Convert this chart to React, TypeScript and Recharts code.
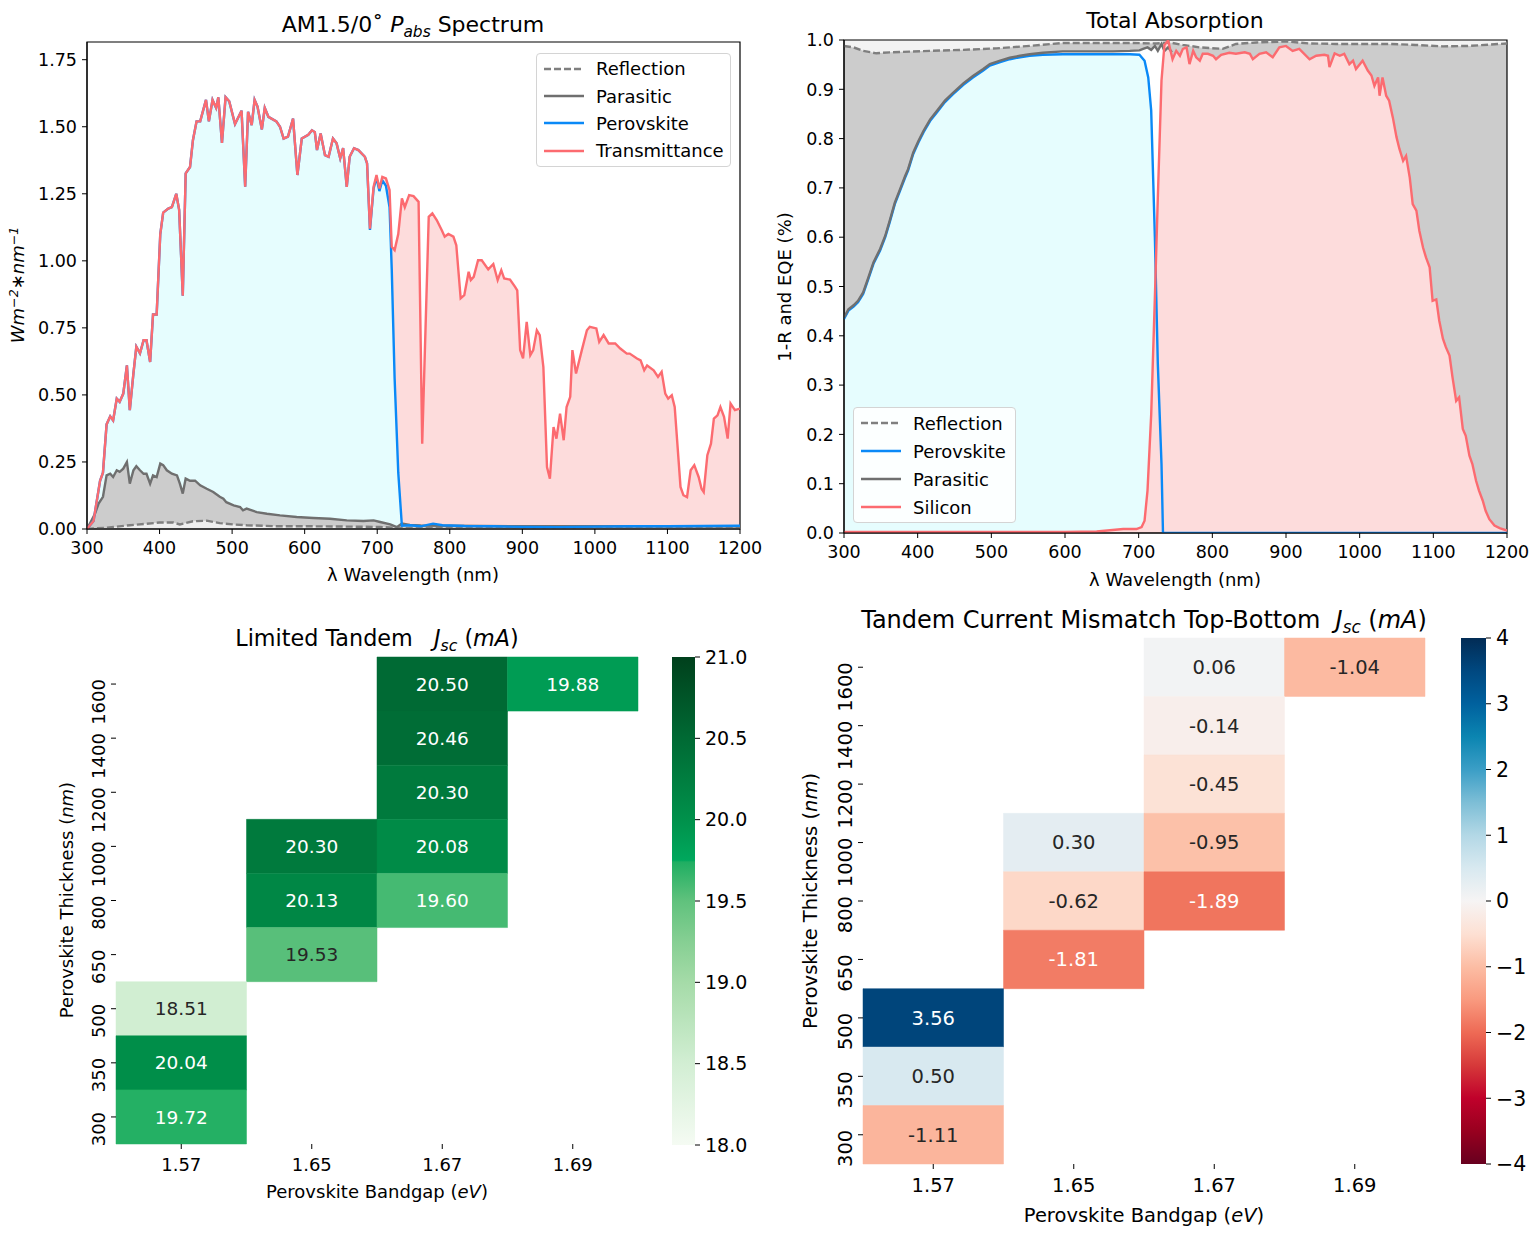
import React from "react";
import {
  ComposedChart,
  Area,
  Line,
  Scatter,
  XAxis,
  YAxis,
  ReferenceArea,
  CartesianGrid,
} from "recharts";

// ---------------------------------------------------------------------------
// Data — top left: AM1.5 absorbed power spectrum (cumulative curves)
// ---------------------------------------------------------------------------

const tlWave = [
  300, 309, 318, 322, 327, 332, 336, 341, 345, 350,
  355, 359, 364, 368, 373, 378, 382, 387, 391, 396,
  401, 405, 412, 417, 423, 427, 432, 436, 442, 446,
  451, 456, 464, 468, 473, 478, 481, 486, 491, 496,
  504, 513, 518, 522, 527, 531, 535, 541, 545, 550,
  561, 566, 571, 577, 584, 590, 596, 605, 610, 614,
  617, 622, 628, 633, 639, 644, 649, 653, 658, 662,
  668, 674, 683, 686, 690, 695, 699, 703, 707, 712,
  717, 720, 724, 729, 734, 738, 744, 750, 757, 762,
  771, 776, 782, 789, 793, 798, 805, 809, 815, 820,
  826, 829, 833, 839, 844, 853, 860, 866, 871, 875,
  883, 890, 893, 897, 901, 906, 911, 915, 920, 924,
  929, 934, 938, 943, 947, 952, 957, 961, 966, 969,
  974, 982, 989, 993, 1002, 1006, 1012, 1019, 1028, 1035,
  1044, 1048, 1058, 1063, 1068, 1072, 1081, 1087, 1092, 1097,
  1101, 1106, 1110, 1118, 1122, 1127, 1132, 1137, 1143, 1147,
  1150, 1155, 1160, 1164, 1169, 1173, 1178, 1183, 1187, 1193,
  1200,
];

const tlTransmittance = [
  0, 0.03, 0.18, 0.21, 0.39, 0.42, 0.405, 0.486, 0.474, 0.505,
  0.61, 0.443, 0.58, 0.68, 0.655, 0.704, 0.704, 0.623, 0.8, 0.8,
  1.1, 1.18, 1.195, 1.2, 1.25, 1.19, 0.87, 1.326, 1.35, 1.45,
  1.52, 1.52, 1.6, 1.52, 1.6, 1.57, 1.61, 1.44, 1.61, 1.595,
  1.51, 1.56, 1.276, 1.556, 1.506, 1.6, 1.575, 1.49, 1.57, 1.537,
  1.52, 1.5, 1.456, 1.463, 1.53, 1.32, 1.456, 1.47, 1.487, 1.48,
  1.413, 1.475, 1.394, 1.388, 1.456, 1.438, 1.382, 1.42, 1.276, 1.388,
  1.42, 1.413, 1.388, 1.363, 1.12, 1.276, 1.32, 1.27, 1.313, 1.307,
  1.264, 1.052, 1.04, 1.1, 1.233, 1.2, 1.245, 1.241, 1.22, 0.318,
  1.164, 1.177, 1.152, 1.114, 1.09, 1.1, 1.09, 1.058, 0.86, 0.872,
  0.959, 0.928, 0.94, 1.002, 1.002, 0.968, 0.988, 0.928, 0.965, 0.934,
  0.93, 0.903, 0.89, 0.667, 0.636, 0.772, 0.648, 0.667, 0.741, 0.723,
  0.604, 0.231, 0.188, 0.38, 0.337, 0.43, 0.331, 0.455, 0.493, 0.667,
  0.58, 0.667, 0.741, 0.754, 0.748, 0.698, 0.723, 0.692, 0.692, 0.673,
  0.654, 0.654, 0.636, 0.629, 0.592, 0.61, 0.592, 0.567, 0.586, 0.505,
  0.486, 0.499, 0.455, 0.157, 0.126, 0.119, 0.219, 0.238, 0.194, 0.15,
  0.138, 0.275, 0.318, 0.412, 0.424, 0.455, 0.418, 0.337, 0.468, 0.443,
  0.449,
];

// perovskite (cumulative) on the first part of tlWave, then its own tail
const tlPerovHead = [
  0, 0.03, 0.18, 0.21, 0.39, 0.42, 0.405, 0.486, 0.474, 0.505,
  0.61, 0.443, 0.58, 0.68, 0.655, 0.704, 0.704, 0.623, 0.8, 0.8,
  1.1, 1.18, 1.195, 1.2, 1.25, 1.19, 0.87, 1.326, 1.35, 1.45,
  1.52, 1.52, 1.6, 1.52, 1.6, 1.57, 1.61, 1.44, 1.61, 1.595,
  1.51, 1.56, 1.276, 1.556, 1.506, 1.6, 1.575, 1.49, 1.57, 1.537,
  1.52, 1.5, 1.456, 1.463, 1.53, 1.32, 1.456, 1.47, 1.487, 1.48,
  1.413, 1.475, 1.394, 1.388, 1.456, 1.438, 1.382, 1.42, 1.276, 1.388,
  1.42, 1.413, 1.388, 1.363, 1.115, 1.27, 1.31, 1.26, 1.3, 1.28,
  1.2, 0.97, 0.56, 0.21, 0.012,
];
const tlPerovTailWave = [745, 760, 777, 790, 820, 860, 900, 950, 1000, 1050, 1100, 1150, 1200];
const tlPerovTail = [0.014, 0.01, 0.02, 0.014, 0.011, 0.01, 0.008, 0.007, 0.009, 0.01, 0.01, 0.011, 0.012];

const tlParaWave = [
  300, 311, 316, 322, 327, 332, 336, 341, 345, 350,
  355, 359, 364, 368, 373, 378, 382, 387, 391, 396,
  401, 405, 410, 417, 424, 428, 432, 436, 442, 449,
  456, 465, 474, 483, 488, 492, 502, 511, 515, 520,
  534, 548, 566, 589, 612, 635, 658, 681, 695, 704,
  718, 727, 734, 745, 760, 800, 900, 1000, 1100, 1200,
];
const tlParasitic = [
  0, 0.057, 0.095, 0.12, 0.2, 0.206, 0.194, 0.219, 0.213, 0.225,
  0.25, 0.169, 0.219, 0.234, 0.219, 0.206, 0.206, 0.169, 0.2, 0.194,
  0.244, 0.238, 0.219, 0.206, 0.2, 0.169, 0.132, 0.188, 0.18, 0.18,
  0.163, 0.15, 0.138, 0.12, 0.113, 0.1, 0.088, 0.082, 0.07, 0.076,
  0.063, 0.057, 0.051, 0.045, 0.041, 0.038, 0.032, 0.03, 0.032, 0.026,
  0.017, 0.007, 0.02, 0.015, 0.013, 0.012, 0.01, 0.01, 0.01, 0.01,
];

const tlReflWave = [300, 327, 359, 400, 419, 428, 446, 465, 483, 502, 520, 566, 612, 658, 704, 727, 800, 1000, 1200];
const tlReflection = [0, 0.005, 0.014, 0.024, 0.024, 0.017, 0.029, 0.031, 0.022, 0.017, 0.014, 0.01, 0.01, 0.009, 0.0075, 0.004, 0.004, 0.004, 0.004];

// ---------------------------------------------------------------------------
// Data — top right: total absorption (1-R and EQE)
// ---------------------------------------------------------------------------

const trPerovWave = [
  300, 306, 313, 319, 326, 333, 340, 349, 356, 362,
  369, 376, 383, 387, 394, 401, 408, 417, 426, 437,
  448, 462, 475, 489, 498, 512, 525, 539, 552, 570,
  597, 620, 643, 665, 688, 701, 708, 713, 717, 722,
  726, 731, 733, 760, 900, 1200,
];
const trPerovskite = [
  0.434, 0.451, 0.459, 0.468, 0.485, 0.515, 0.546, 0.573, 0.6, 0.63,
  0.667, 0.694, 0.721, 0.735, 0.769, 0.792, 0.813, 0.836, 0.853, 0.874,
  0.89, 0.909, 0.924, 0.938, 0.948, 0.955, 0.961, 0.965, 0.968, 0.97,
  0.971, 0.971, 0.971, 0.971, 0.971, 0.97, 0.958, 0.924, 0.857, 0.6,
  0.343, 0.14, 0, 0, 0, 0,
];

const trParaWave = [
  300, 306, 313, 319, 326, 333, 340, 349, 356, 362,
  369, 376, 383, 387, 394, 401, 408, 417, 426, 437,
  448, 462, 475, 489, 498, 512, 525, 539, 552, 570,
  597, 620, 643, 665, 688, 701, 706, 712, 717, 722,
  726, 731, 735, 740, 745,
];
const trParasitic = [
  0.437, 0.454, 0.462, 0.471, 0.488, 0.518, 0.549, 0.576, 0.603, 0.633,
  0.67, 0.697, 0.724, 0.738, 0.772, 0.795, 0.816, 0.839, 0.856, 0.877,
  0.893, 0.912, 0.927, 0.941, 0.951, 0.958, 0.964, 0.968, 0.971, 0.974,
  0.977, 0.977, 0.977, 0.977, 0.978, 0.979, 0.982, 0.985, 0.98, 0.988,
  0.978, 0.992, 0.978, 0.985, 0.975,
];

const trSiWave = [
  300, 600, 643, 679, 697, 704, 708, 712, 717, 722,
  726, 731, 735, 740, 746, 751, 756, 760, 765, 769,
  774, 778, 783, 787, 794, 801, 805, 812, 823, 832,
  844, 851, 855, 864, 873, 882, 891, 900, 909, 918,
  932, 941, 952, 957, 959, 966, 973, 979, 986, 991,
  995, 1004, 1011, 1016, 1020, 1025, 1027, 1031, 1036, 1040,
  1045, 1050, 1054, 1059, 1063, 1068, 1072, 1077, 1081, 1086,
  1090, 1095, 1099, 1104, 1108, 1113, 1117, 1122, 1126, 1131,
  1135, 1140, 1144, 1149, 1153, 1158, 1162, 1167, 1171, 1176,
  1183, 1190, 1200,
];
const trSilicon = [
  0.002, 0.002, 0.003, 0.008, 0.008, 0.012, 0.025, 0.086, 0.24, 0.478,
  0.68, 0.918, 0.99, 0.999, 0.961, 0.978, 0.968, 0.982, 0.985, 0.951,
  0.978, 0.965, 0.958, 0.972, 0.972, 0.968, 0.961, 0.97, 0.974, 0.972,
  0.975, 0.972, 0.961, 0.972, 0.975, 0.965, 0.985, 0.988, 0.978, 0.982,
  0.961, 0.968, 0.97, 0.968, 0.945, 0.973, 0.968, 0.972, 0.951, 0.958,
  0.941, 0.958, 0.938, 0.928, 0.907, 0.924, 0.887, 0.924, 0.887, 0.877,
  0.843, 0.803, 0.779, 0.755, 0.765, 0.721, 0.667, 0.654, 0.613, 0.579,
  0.559, 0.539, 0.471, 0.474, 0.431, 0.394, 0.377, 0.36, 0.316, 0.268,
  0.275, 0.211, 0.197, 0.157, 0.14, 0.106, 0.086, 0.066, 0.045, 0.028,
  0.015, 0.01, 0.005,
];

const trReflWave = [300, 313, 326, 344, 362, 380, 417, 462, 507, 552, 597, 643, 688, 724, 742, 760, 783, 814, 832, 860, 900, 932, 968, 1004, 1040, 1076, 1113, 1149, 1200];
const trOneMinusR = [0.988, 0.985, 0.978, 0.973, 0.975, 0.976, 0.978, 0.98, 0.983, 0.988, 0.994, 0.994, 0.994, 0.993, 0.995, 0.99, 0.985, 0.982, 0.992, 0.995, 0.997, 0.993, 0.992, 0.992, 0.992, 0.99, 0.987, 0.988, 0.993];

// ---------------------------------------------------------------------------
// Data — heatmaps (rows top to bottom, columns left to right)
// ---------------------------------------------------------------------------

const bandgaps = ["1.57", "1.65", "1.67", "1.69"];
const thicknesses = ["1600", "1400", "1200", "1000", "800", "650", "500", "350", "300"];

const limitedJsc = [
  [null, null, 20.5, 19.88],
  [null, null, 20.46, null],
  [null, null, 20.3, null],
  [null, 20.3, 20.08, null],
  [null, 20.13, 19.6, null],
  [null, 19.53, null, null],
  [18.51, null, null, null],
  [20.04, null, null, null],
  [19.72, null, null, null],
];

const mismatchJsc = [
  [null, null, 0.06, -1.04],
  [null, null, -0.14, null],
  [null, null, -0.45, null],
  [null, 0.3, -0.95, null],
  [null, -0.62, -1.89, null],
  [null, -1.81, null, null],
  [3.56, null, null, null],
  [0.5, null, null, null],
  [-1.11, null, null, null],
];

const xTicks = [300, 400, 500, 600, 700, 800, 900, 1000, 1100, 1200];
const tlYTicks = [0, 0.25, 0.5, 0.75, 1, 1.25, 1.5, 1.75];
const trYTicks = [0, 0.1, 0.2, 0.3, 0.4, 0.5, 0.6, 0.7, 0.8, 0.9, 1];
const greensTicks = [18, 18.5, 19, 19.5, 20, 20.5, 21];
const rdbuTicks = [-4, -3, -2, -1, 0, 1, 2, 3, 4];

// ---------------------------------------------------------------------------
// Colour maps
// ---------------------------------------------------------------------------

const GREENS: [number, string][] = [
  [18.0, "#f5fbf3"], [18.5, "#d2eed3"], [19.0, "#a5dba8"], [19.25, "#86cf93"],
  [19.5, "#60c27d"], [19.74, "#1fae62"], [19.75, "#00a85d"], [20.0, "#00914b"],
  [20.5, "#006a34"], [21.0, "#00401c"],
];
const RDBU: [number, string][] = [
  [-4, "#67001f"], [-3.5, "#98001f"], [-3, "#c0012b"], [-2.5, "#d6393a"],
  [-2, "#ee6a55"], [-1.5, "#f99a7f"], [-1, "#fcbda4"], [-0.5, "#fde0d3"],
  [0, "#f6f4f4"], [0.5, "#d8e9f0"], [1, "#b3d8e6"], [1.5, "#7dbed6"],
  [2, "#3b9ec6"], [2.5, "#0b85b1"], [3, "#00619e"], [3.5, "#004880"], [4, "#022c55"],
];

const hexToRgb = (h: string) => {
  const n = parseInt(h.slice(1), 16);
  return [(n >> 16) & 255, (n >> 8) & 255, n & 255];
};

function cmap(stops: [number, string][], v: number): string {
  if (v <= stops[0][0]) return stops[0][1];
  for (let i = 0; i < stops.length - 1; i++) {
    const [a, ca] = stops[i];
    const [b, cb] = stops[i + 1];
    if (v <= b) {
      const t = (v - a) / (b - a);
      const A = hexToRgb(ca);
      const B = hexToRgb(cb);
      const c = A.map((x, k) => Math.round(x + (B[k] - x) * t));
      return `rgb(${c[0]},${c[1]},${c[2]})`;
    }
  }
  return stops[stops.length - 1][1];
}

function textOn(color: string): string {
  const m = color.match(/\d+/g);
  const rgb = m ? m.map(Number) : hexToRgb(color);
  const lin = rgb.map((c) => {
    const s = c / 255;
    return s <= 0.03928 ? s / 12.92 : Math.pow((s + 0.055) / 1.055, 2.4);
  });
  const L = 0.2126 * lin[0] + 0.7152 * lin[1] + 0.0722 * lin[2];
  return L < 0.39 ? "#ffffff" : "#262626";
}

// ---------------------------------------------------------------------------
// Helpers
// ---------------------------------------------------------------------------

const FONT = '"DejaVu Sans", sans-serif';
const RED = "#fc6b70";
const BLUE = "#0a89f7";
const GRAY = "#6f6f6f";
const DASH = "#7f7f7f";
const CYAN_FILL = "#e6fdfe";
const PINK_FILL = "#fddcdc";
const GRAY_FILL = "#cccccc";
const LW = 2.4;

const zip = (xs: number[], ys: number[]) => xs.map((x, i) => ({ x, y: ys[i] }));
const tick = (size: number) => ({ fontSize: size, fill: "#000", fontFamily: FONT });

function Txt({ x, y, size, rotate, children }: any) {
  return (
    <div
      style={{
        position: "absolute",
        left: x,
        top: y,
        transform: `translate(-50%, -50%)${rotate ? " rotate(-90deg)" : ""}`,
        fontSize: size,
        fontFamily: FONT,
        whiteSpace: "nowrap",
        lineHeight: 1,
        color: "#000",
      }}
    >
      {children}
    </div>
  );
}

const Sub = ({ children }: any) => (
  <span style={{ fontSize: "0.7em", position: "relative", top: "0.3em" }}>{children}</span>
);
const Sup = ({ children }: any) => (
  <span style={{ fontSize: "0.7em", position: "relative", top: "-0.45em" }}>{children}</span>
);

function LegendBox({ left, top, width, rowH, items, fontSize }: any) {
  return (
    <div
      style={{
        position: "absolute",
        left,
        top,
        width,
        padding: "1px 0",
        border: "1px solid #d4d4d4",
        borderRadius: 4,
        background: "rgba(255,255,255,0.85)",
        fontFamily: FONT,
        fontSize,
        boxSizing: "border-box",
      }}
    >
      {items.map((it: any) => (
        <div key={it.label} style={{ display: "flex", alignItems: "center", height: rowH }}>
          <svg width={54} height={10}>
            <line x1={7} x2={47} y1={5} y2={5} stroke={it.color} strokeWidth={LW} strokeDasharray={it.dash} />
          </svg>
          <span style={{ marginLeft: 5 }}>{it.label}</span>
        </div>
      ))}
    </div>
  );
}

// rotated thickness labels: end of the text sits just above the tick
function RotTick(props: any) {
  const { x, y, payload, fs } = props;
  const bx = x - 4;
  const by = y - 5;
  return (
    <text
      x={bx}
      y={by}
      transform={`rotate(-90 ${bx} ${by})`}
      textAnchor="end"
      fontSize={fs}
      fontFamily={FONT}
      fill="#000"
    >
      {thicknesses[payload.value]}
    </text>
  );
}

// ---------------------------------------------------------------------------
// Spectrum panels
// ---------------------------------------------------------------------------

function SpectrumPanel() {
  const trans = zip(tlWave, tlTransmittance);
  const perov = zip(tlWave.slice(0, tlPerovHead.length), tlPerovHead).concat(zip(tlPerovTailWave, tlPerovTail));
  const para = zip(tlParaWave, tlParasitic);
  const refl = zip(tlReflWave, tlReflection);
  const ymax = 1.816;

  return (
    <ComposedChart width={770} height={600} margin={{ top: 42, right: 30, bottom: 41, left: 27 }}>
      <XAxis type="number" dataKey="x" domain={[300, 1200]} ticks={xTicks} allowDataOverflow height={30}
        tick={tick(17.5)} tickSize={5} tickMargin={8} axisLine={{ stroke: "#000" }} tickLine={{ stroke: "#000" }} />
      <YAxis type="number" dataKey="y" domain={[0, ymax]} ticks={tlYTicks} allowDataOverflow width={60}
        tickFormatter={(v: number) => v.toFixed(2)} tick={tick(17.5)} tickSize={5} tickMargin={5}
        axisLine={{ stroke: "#000" }} tickLine={{ stroke: "#000" }} />
      <Area data={trans} dataKey="y" type="linear" stroke="none" fill={PINK_FILL} fillOpacity={1} isAnimationActive={false} />
      <Area data={perov} dataKey="y" type="linear" stroke="none" fill={CYAN_FILL} fillOpacity={1} isAnimationActive={false} />
      <Area data={para} dataKey="y" type="linear" stroke="none" fill={GRAY_FILL} fillOpacity={1} isAnimationActive={false} />
      <Area data={refl} dataKey="y" type="linear" stroke="none" fill="#efefef" fillOpacity={1} isAnimationActive={false} />
      <Line data={refl} dataKey="y" type="linear" stroke={DASH} strokeWidth={LW} strokeDasharray="7 3" dot={false} isAnimationActive={false} />
      <Line data={para} dataKey="y" type="linear" stroke={GRAY} strokeWidth={LW} dot={false} isAnimationActive={false} />
      <Line data={perov} dataKey="y" type="linear" stroke={BLUE} strokeWidth={LW} dot={false} isAnimationActive={false} />
      <Line data={trans} dataKey="y" type="linear" stroke={RED} strokeWidth={LW} dot={false} isAnimationActive={false} />
      <ReferenceArea x1={300} x2={1200} y1={0} y2={ymax} fill="none" fillOpacity={0} stroke="#000" strokeWidth={1.2} />
    </ComposedChart>
  );
}

function AbsorptionPanel() {
  const oneMinusR = zip(trReflWave, trOneMinusR);
  const para = zip(trParaWave, trParasitic);
  const perov = zip(trPerovWave, trPerovskite);
  const si = zip(trSiWave, trSilicon);

  return (
    <ComposedChart width={770} height={600} margin={{ top: 40, right: 33, bottom: 37, left: 24 }}>
      <CartesianGrid horizontal={false} vertical={false} fill="#f3f3f3" fillOpacity={1} />
      <XAxis type="number" dataKey="x" domain={[300, 1200]} ticks={xTicks} allowDataOverflow height={30}
        tick={tick(17.5)} tickSize={5} tickMargin={8} axisLine={{ stroke: "#000" }} tickLine={{ stroke: "#000" }} />
      <YAxis type="number" dataKey="y" domain={[0, 1]} ticks={trYTicks} allowDataOverflow width={50}
        tickFormatter={(v: number) => v.toFixed(1)} tick={tick(17.5)} tickSize={5} tickMargin={5}
        axisLine={{ stroke: "#000" }} tickLine={{ stroke: "#000" }} />
      <Area data={oneMinusR} dataKey="y" type="linear" stroke="none" fill={GRAY_FILL} fillOpacity={1} isAnimationActive={false} />
      <Area data={para} dataKey="y" type="linear" stroke="none" fill="#ffffff" fillOpacity={1} isAnimationActive={false} />
      <Area data={perov} dataKey="y" type="linear" stroke="none" fill={CYAN_FILL} fillOpacity={1} isAnimationActive={false} />
      <Area data={si} dataKey="y" type="linear" stroke="none" fill={PINK_FILL} fillOpacity={1} isAnimationActive={false} />
      <Line data={oneMinusR} dataKey="y" type="linear" stroke={DASH} strokeWidth={LW} strokeDasharray="7 3" dot={false} isAnimationActive={false} />
      <Line data={perov} dataKey="y" type="linear" stroke={BLUE} strokeWidth={LW} dot={false} isAnimationActive={false} />
      <Line data={para} dataKey="y" type="linear" stroke={GRAY} strokeWidth={LW} dot={false} isAnimationActive={false} />
      <Line data={si} dataKey="y" type="linear" stroke={RED} strokeWidth={LW} dot={false} isAnimationActive={false} />
      <ReferenceArea x1={300} x2={1200} y1={0} y2={1} fill="none" fillOpacity={0} stroke="#000" strokeWidth={1.2} />
    </ComposedChart>
  );
}

// ---------------------------------------------------------------------------
// Heatmaps and colour bars
// ---------------------------------------------------------------------------

function Heatmap({ matrix, stops, width, height, margin, yWidth, tickFs, annFs, xMargin }: any) {
  const cells: { col: number; row: number; v: number }[] = [];
  matrix.forEach((r: (number | null)[], ri: number) =>
    r.forEach((v, ci) => {
      if (v !== null) cells.push({ col: ci, row: ri, v });
    })
  );
  return (
    <ComposedChart width={width} height={height} margin={margin}>
      <XAxis type="number" dataKey="col" domain={[-0.5, 3.5]} ticks={[0, 1, 2, 3]} allowDataOverflow interval={0}
        tickFormatter={(i: number) => bandgaps[i]} height={30} axisLine={false} tickSize={5} tickMargin={xMargin}
        tick={tick(tickFs)} tickLine={{ stroke: "#000" }} />
      <YAxis type="number" dataKey="row" domain={[-0.5, 8.5]} ticks={[0, 1, 2, 3, 4, 5, 6, 7, 8]} reversed
        allowDataOverflow interval={0} width={yWidth} axisLine={false} tickSize={5} tickLine={{ stroke: "#000" }}
        tick={<RotTick fs={tickFs} />} />
      {cells.map((c) => {
        const color = cmap(stops, c.v);
        return (
          <ReferenceArea
            key={`${c.row}-${c.col}`}
            x1={c.col - 0.5}
            x2={c.col + 0.5}
            y1={c.row - 0.5}
            y2={c.row + 0.5}
            fill={color}
            fillOpacity={1}
            stroke={color}
            strokeWidth={0.5}
            label={{ value: c.v.toFixed(2), position: "center", fill: textOn(color), fontSize: annFs, fontFamily: FONT }}
          />
        );
      })}
      <Scatter data={cells} fill="none" isAnimationActive={false} legendType="none" />
    </ComposedChart>
  );
}

function ColorBar({ id, min, max, ticks, fmt, width, height, margin, fs }: any) {
  return (
    <ComposedChart width={width} height={height} margin={margin}>
      <XAxis type="number" dataKey="x" domain={[0, 1]} hide allowDataOverflow />
      <YAxis type="number" dataKey="y" orientation="right" domain={[min, max]} ticks={ticks} allowDataOverflow
        interval={0} width={50} axisLine={false} tickSize={5} tickMargin={5} tickFormatter={fmt}
        tick={tick(fs)} tickLine={{ stroke: "#000" }} />
      <ReferenceArea x1={0} x2={1} y1={min} y2={max} fill={`url(#${id})`} fillOpacity={1} stroke="none" />
      <Scatter data={[{ x: 0.5, y: min }]} fill="none" isAnimationActive={false} legendType="none" />
    </ComposedChart>
  );
}

function Gradient({ id, stops }: { id: string; stops: [number, string][] }) {
  const lo = stops[0][0];
  const hi = stops[stops.length - 1][0];
  return (
    <linearGradient id={id} x1="0" y1="1" x2="0" y2="0">
      {stops.map(([v, c]) => (
        <stop key={v} offset={(v - lo) / (hi - lo)} stopColor={c} />
      ))}
    </linearGradient>
  );
}

// ---------------------------------------------------------------------------
// App
// ---------------------------------------------------------------------------

export default function App() {
  return (
    <div style={{ position: "absolute", left: 0, top: 0, width: 1540, height: 1244, background: "#fff", fontFamily: FONT }}>
      <svg width={0} height={0} style={{ position: "absolute" }}>
        <defs>
          <Gradient id="gGreens" stops={GREENS} />
          <Gradient id="gRdBu" stops={RDBU} />
        </defs>
      </svg>

      {/* top left */}
      <div style={{ position: "absolute", left: 0, top: 0 }}>
        <SpectrumPanel />
      </div>
      <Txt x={413} y={25} size={22}>
        AM1.5/0˚ <i>P</i><Sub><i>abs</i></Sub> Spectrum
      </Txt>
      <Txt x={413} y={575} size={18}>λ Wavelength (nm)</Txt>
      <Txt x={18} y={285} size={18} rotate>
        <i>Wm<Sup>−2</Sup>∗nm<Sup>−1</Sup></i>
      </Txt>
      <LegendBox
        left={536}
        top={53}
        width={195}
        rowH={27.4}
        fontSize={18}
        items={[
          { label: "Reflection", color: DASH, dash: "7 3" },
          { label: "Parasitic", color: GRAY },
          { label: "Perovskite", color: BLUE },
          { label: "Transmittance", color: RED },
        ]}
      />

      {/* top right */}
      <div style={{ position: "absolute", left: 770, top: 0 }}>
        <AbsorptionPanel />
      </div>
      <Txt x={1175} y={21} size={22}>Total Absorption</Txt>
      <Txt x={1175} y={580} size={18}>λ Wavelength (nm)</Txt>
      <Txt x={785} y={287} size={18} rotate>1-R and EQE (%)</Txt>
      <LegendBox
        left={853}
        top={407}
        width={163}
        rowH={28}
        fontSize={18}
        items={[
          { label: "Reflection", color: DASH, dash: "7 3" },
          { label: "Perovskite", color: BLUE },
          { label: "Parasitic", color: GRAY },
          { label: "Silicon", color: RED },
        ]}
      />

      {/* bottom left */}
      <div style={{ position: "absolute", left: 0, top: 600 }}>
        <Heatmap
          matrix={limitedJsc}
          stops={GREENS}
          width={660}
          height={644}
          margin={{ top: 57, right: 22, bottom: 70, left: 66 }}
          yWidth={50}
          tickFs={18}
          annFs={18.5}
          xMargin={9}
        />
      </div>
      <div style={{ position: "absolute", left: 660, top: 600 }}>
        <ColorBar id="gGreens" min={18} max={21} ticks={greensTicks} fmt={(v: number) => v.toFixed(1)}
          width={100} height={644} margin={{ top: 57, right: 15, bottom: 99, left: 12 }} fs={19} />
      </div>
      <Txt x={377} y={638} size={22.3}>
        Limited Tandem&nbsp;&nbsp;&nbsp;<i>J</i><Sub><i>sc</i></Sub> (<i>mA</i>)
      </Txt>
      <Txt x={377} y={1192} size={18}>Perovskite Bandgap (<i>eV</i>)</Txt>
      <Txt x={67} y={900} size={18} rotate>Perovskite Thickness (<i>nm</i>)</Txt>

      {/* bottom right */}
      <div style={{ position: "absolute", left: 770, top: 600 }}>
        <Heatmap
          matrix={mismatchJsc}
          stops={RDBU}
          width={680}
          height={644}
          margin={{ top: 38, right: 25, bottom: 50, left: 43 }}
          yWidth={50}
          tickFs={19.5}
          annFs={19.5}
          xMargin={9}
        />
      </div>
      <div style={{ position: "absolute", left: 1450, top: 600 }}>
        <ColorBar id="gRdBu" min={-4} max={4} ticks={rdbuTicks} fmt={(v: number) => (v < 0 ? `−${-v}` : `${v}`)}
          width={90} height={644} margin={{ top: 38, right: 4, bottom: 80, left: 11 }} fs={20.5} />
      </div>
      <Txt x={1144} y={620} size={24}>
        Tandem Current Mismatch Top-Bottom&nbsp;&nbsp;<i>J</i><Sub><i>sc</i></Sub> (<i>mA</i>)
      </Txt>
      <Txt x={1144} y={1216} size={19.5}>Perovskite Bandgap (<i>eV</i>)</Txt>
      <Txt x={811} y={901} size={19.5} rotate>Perovskite Thickness (<i>nm</i>)</Txt>
    </div>
  );
}
